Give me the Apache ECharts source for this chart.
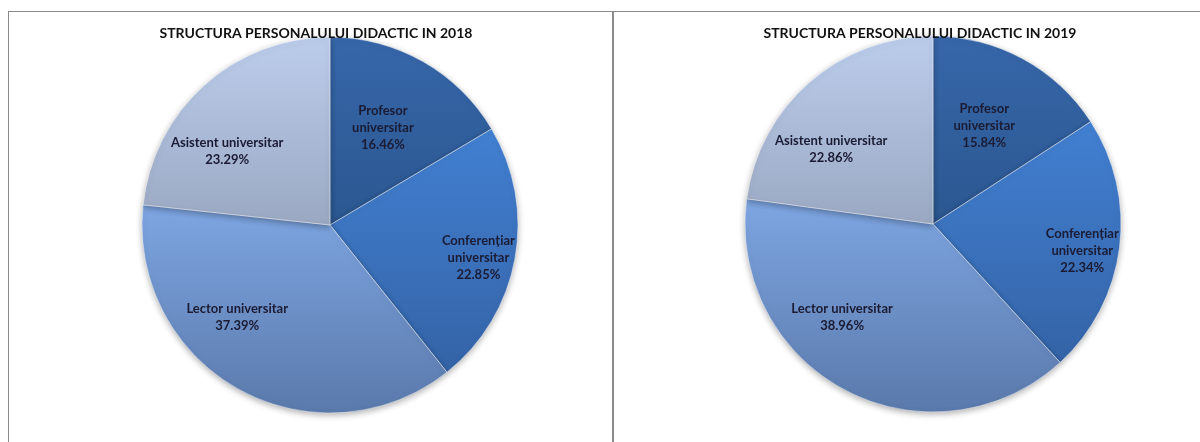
<!DOCTYPE html>
<html>
<head>
<meta charset="utf-8">
<script src="https://cdn.jsdelivr.net/npm/echarts@6/dist/echarts.min.js"></script>
<style>
html,body{margin:0;padding:0;background:#fff;}
#chart{width:1200px;height:442px;}
</style>
</head>
<body>
<div id="chart"></div>
<script>
// ---- data ----
const categories = ['Profesor\nuniversitar', 'Conferențiar\nuniversitar', 'Lector universitar', 'Asistent universitar'];
const titles = ['STRUCTURA PERSONALULUI DIDACTIC IN 2018', 'STRUCTURA PERSONALULUI DIDACTIC IN 2019'];
const values2018 = [16.46, 22.85, 37.39, 23.29];
const values2019 = [15.84, 22.34, 38.96, 22.86];

// ---- styling ----
const gradients = [
  ['#3767aa', '#2b5790'],
  ['#4280d2', '#3463a6'],
  ['#7ea6e2', '#5a79ab'],
  ['#bccdec', '#9aa8c2']
];
const labelShift = [[5, -13], [53, 15], [-46, 7], [-38, -2]];

function grad(c) {
  return new echarts.graphic.LinearGradient(0, 0, 0, 1, [
    { offset: 0, color: c[0] },
    { offset: 1, color: c[1] }
  ]);
}

function buildData(vals) {
  return categories.map((name, i) => ({
    name: name,
    value: vals[i],
    itemStyle: { color: grad(gradients[i]) }
  }));
}

function pieSeries(vals, center) {
  return {
    type: 'pie',
    center: center,
    radius: 188,
    startAngle: 90,
    clockwise: true,
    animation: false,
    silent: true,
    itemStyle: {
      borderColor: 'rgba(255,255,255,0.45)',
      borderWidth: 1,
      shadowBlur: 6,
      shadowOffsetY: 2,
      shadowColor: 'rgba(0,0,0,0.3)'
    },
    label: {
      show: true,
      position: 'inside',
      fontFamily: 'Lato',
      fontWeight: 'bold',
      fontSize: 13,
      lineHeight: 17,
      color: '#1b1b33',
      formatter: p => p.name + '\n' + p.value.toFixed(2) + '%'
    },
    labelLine: { show: false },
    labelLayout: p => ({ dx: labelShift[p.dataIndex][0], dy: labelShift[p.dataIndex][1] }),
    data: buildData(vals)
  };
}

const chart = echarts.init(document.getElementById('chart'), null, { renderer: 'canvas' });
chart.setOption({
  backgroundColor: '#ffffff',
  title: [
    { text: titles[0], left: 311, top: 21, textAlign: 'center',
      textStyle: { fontFamily: 'Lato', fontWeight: 'bold', fontSize: 14, color: '#111' } },
    { text: titles[1], left: 915, top: 21, textAlign: 'center',
      textStyle: { fontFamily: 'Lato', fontWeight: 'bold', fontSize: 14, color: '#111' } }
  ],
  graphic: [
    { type: 'line', shape: { x1: 8, y1: 11.5, x2: 1200, y2: 11.5 }, style: { stroke: '#8a8a8a', lineWidth: 1 }, silent: true },
    { type: 'line', shape: { x1: 8.5, y1: 11, x2: 8.5, y2: 442 }, style: { stroke: '#8a8a8a', lineWidth: 1 }, silent: true },
    { type: 'line', shape: { x1: 613, y1: 11, x2: 613, y2: 442 }, style: { stroke: '#8a8a8a', lineWidth: 2 }, silent: true }
  ],
  series: [
    pieSeries(values2018, [330, 225]),
    pieSeries(values2019, [933, 224])
  ]
});
</script>
</body>
</html>
